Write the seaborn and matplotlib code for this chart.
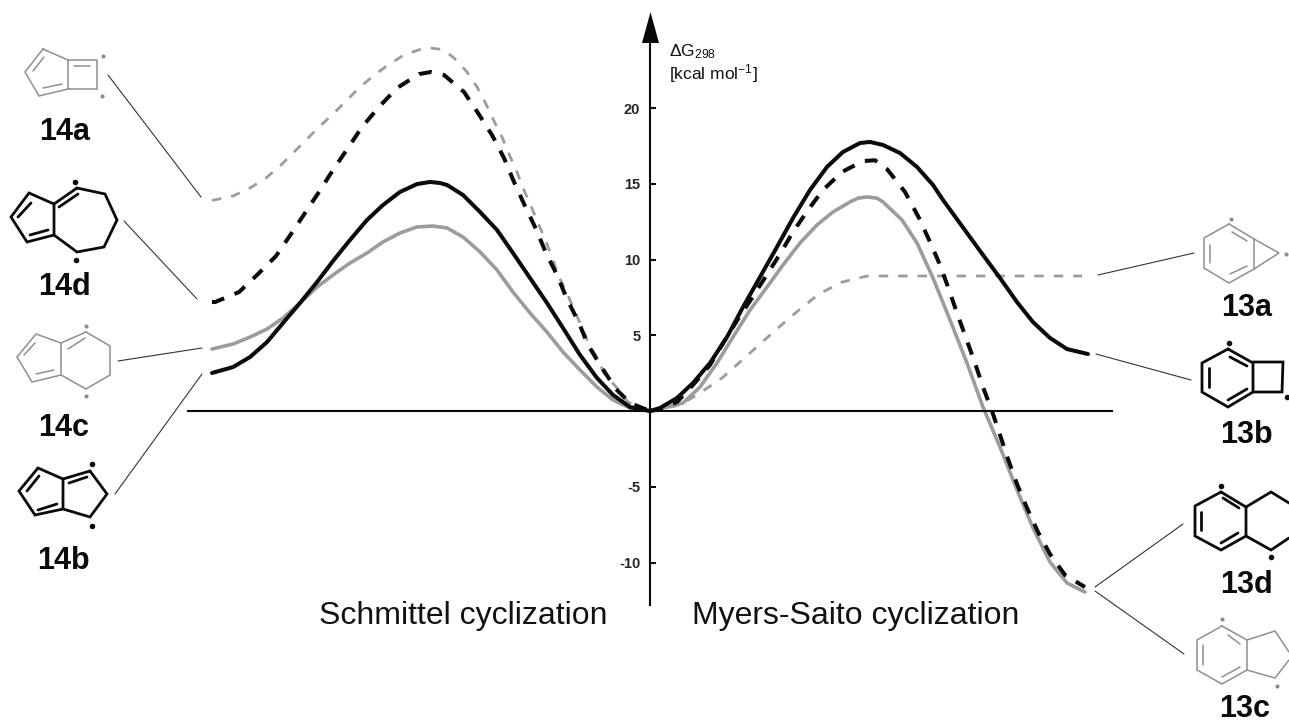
import pandas as pd
import matplotlib
matplotlib.use('Agg')
import matplotlib.pyplot as plt
import seaborn as sns

# reaction coordinate (arbitrary units, 0 = enediyne) and dG298 in kcal/mol
rc_14a = [-438, -417, -400, -384, -370, -357, -344, -331, -317, -304, -291, -277, -262, -246, -229, -220, -211, -202, -196, -183, -173, -164, -156, -148, -141, -133, -127, -119, -112, -105, -98, -92, -84, -77, -70, -62, -53, -46, -33, -22, -7, 0]
g_14a = [13.90, 14.19, 14.72, 15.38, 16.17, 17.03, 17.89, 18.75, 19.60, 20.46, 21.32, 22.11, 22.84, 23.50, 23.89, 23.96, 23.89, 23.62, 23.30, 22.38, 21.39, 20.26, 19.14, 18.09, 16.96, 15.78, 14.72, 13.53, 12.41, 11.35, 10.17, 8.98, 7.92, 6.86, 5.81, 4.55, 3.50, 2.51, 1.52, 0.59, 0.07, 0.0]

rc_14d = [-438, -435, -411, -392, -374, -359, -345, -331, -317, -302, -288, -271, -253, -231, -219, -206, -186, -172, -158, -146, -136, -125, -114, -104, -93, -83, -71, -62, -48, -34, -20, 0]
g_14d = [7.20, 7.19, 7.85, 9.04, 10.23, 11.68, 13.07, 14.46, 15.91, 17.36, 18.75, 20.07, 21.32, 22.24, 22.38, 22.18, 21.06, 19.67, 18.22, 16.70, 15.12, 13.53, 12.01, 10.43, 8.98, 7.39, 5.81, 4.36, 2.84, 1.45, 0.53, 0.0]

rc_14b = [-438, -417, -400, -383, -367, -350, -333, -317, -300, -283, -267, -250, -233, -220, -210, -203, -187, -170, -153, -137, -120, -103, -87, -70, -53, -37, -20, 0]
g_14b = [2.51, 2.90, 3.56, 4.55, 5.81, 7.13, 8.51, 9.90, 11.29, 12.61, 13.60, 14.46, 14.98, 15.12, 15.05, 14.92, 14.26, 13.14, 11.95, 10.43, 8.78, 7.13, 5.48, 3.70, 2.18, 1.06, 0.26, 0.0]

rc_14c = [-438, -417, -400, -383, -367, -350, -333, -317, -300, -283, -267, -250, -233, -217, -203, -187, -170, -153, -137, -120, -103, -87, -70, -53, -37, -20, 0]
g_14c = [4.09, 4.42, 4.88, 5.41, 6.14, 7.13, 8.18, 8.98, 9.77, 10.43, 11.16, 11.75, 12.15, 12.21, 12.08, 11.49, 10.50, 9.31, 7.85, 6.47, 5.21, 3.89, 2.71, 1.58, 0.73, 0.20, 0.0]

rc_13a = [0, 10, 30, 50, 72, 91, 110, 129, 149, 169, 192, 217, 243, 268, 293, 320, 343, 372, 400, 432]
g_13a = [0.0, 0.13, 0.40, 1.19, 2.18, 3.30, 4.42, 5.54, 6.67, 7.72, 8.51, 8.91, 8.91, 8.91, 8.91, 8.91, 8.91, 8.91, 8.91, 8.91]

rc_13b = [0, 10, 27, 43, 60, 77, 93, 110, 127, 143, 160, 177, 193, 210, 220, 233, 250, 267, 283, 293, 317, 333, 350, 367, 383, 400, 417, 438]
g_13b = [0.0, 0.20, 0.86, 1.85, 3.17, 4.88, 6.86, 8.84, 10.83, 12.74, 14.59, 16.11, 17.10, 17.69, 17.76, 17.56, 17.03, 16.11, 14.92, 13.93, 11.75, 10.30, 8.78, 7.19, 5.87, 4.82, 4.09, 3.76]

rc_13d = [0, 10, 27, 43, 60, 75, 88, 102, 116, 130, 143, 158, 173, 192, 213, 225, 237, 255, 269, 280, 290, 299, 307, 316, 325, 333, 342, 350, 358, 367, 377, 388, 400, 415, 435]
g_13d = [0.0, 0.13, 0.59, 1.72, 3.04, 4.69, 6.07, 7.46, 8.91, 10.36, 11.82, 13.27, 14.59, 15.78, 16.50, 16.55, 15.97, 14.46, 12.74, 11.16, 9.64, 8.00, 6.47, 4.82, 3.17, 1.58, 0.0, -1.58, -3.17, -4.82, -6.40, -7.99, -9.44, -10.83, -11.62]

rc_13c = [0, 10, 33, 50, 67, 83, 100, 117, 133, 150, 167, 183, 200, 208, 217, 227, 233, 252, 267, 283, 300, 317, 333, 350, 367, 383, 400, 417, 435]
g_13c = [0.0, 0.13, 0.53, 1.58, 3.17, 4.88, 6.67, 8.18, 9.64, 11.09, 12.28, 13.14, 13.80, 14.05, 14.13, 14.05, 13.80, 12.61, 11.09, 8.78, 6.01, 3.17, 0.26, -2.38, -5.21, -7.72, -9.97, -11.35, -11.95]

y_ticks = [20, 15, 10, 5, -5, -10]
y_tick_labels = ['20', '15', '10', '5', '-5', '-10']

GRAY = '#9c9c9c'
INK = '#0a0a0a'

# structure sketches: rings, inner double bonds, radical dots, leader line, label
structures = [
    dict(name='14a', color='#8f8f8f', lw=1.1, label=(65, 140),
         rings=[[(43, 49), (68, 60), (68, 89), (39, 96), (25, 72), (43, 49)], [(68, 60), (97, 60), (97, 89), (68, 89)]],
         bonds=[((33, 71), (44, 57)), ((43, 88), (62, 84)), ((74, 66), (90, 66))],
         dots=[(103, 56), (102, 96)], leader=((108, 75), (201, 197))),
    dict(name='14d', color=INK, lw=2.0, label=(64, 295),
         rings=[[(77, 188), (105, 194), (117, 220), (104, 247), (77, 252), (54, 235), (54, 204), (77, 188)], [(54, 204), (29, 193), (11, 217), (27, 242), (54, 235)]],
         bonds=[((59, 207), (78, 194)), ((18, 217), (31, 203)), ((30, 235), (48, 230))],
         dots=[(75, 182), (76, 260)], leader=((124, 221), (197, 299))),
    dict(name='14c', color='#8f8f8f', lw=1.1, label=(64, 436),
         rings=[[(86, 332), (110, 346), (110, 375), (86, 389), (61, 375), (61, 343), (86, 332)], [(61, 343), (36, 334), (17, 357), (32, 382), (61, 375)]],
         bonds=[((68, 349), (85, 338)), ((24, 355), (35, 343)), ((36, 374), (54, 370))],
         dots=[(86, 326), (86, 396)], leader=((118, 361), (202, 348))),
    dict(name='14b', color=INK, lw=2.0, label=(63, 569),
         rings=[[(90, 471), (107, 494), (90, 517), (63, 509), (63, 479), (90, 471)], [(63, 479), (38, 468), (19, 491), (35, 515), (63, 509)]],
         bonds=[((69, 483), (87, 477)), ((27, 491), (39, 476)), ((38, 510), (57, 504))],
         dots=[(92, 464), (92, 526)], leader=((115, 494), (202, 374))),
    dict(name='13a', color='#8f8f8f', lw=1.1, label=(1247, 316),
         rings=[[(1229, 224), (1254, 239), (1254, 269), (1229, 283), (1204, 268), (1204, 238), (1229, 224)], [(1254, 239), (1279, 253), (1254, 269)]],
         bonds=[((1232, 232), (1247, 241)), ((1230, 274), (1247, 266)), ((1210, 245), (1210, 263))],
         dots=[(1231, 219), (1286, 254)], leader=((1098, 275), (1194, 253))),
    dict(name='13b', color=INK, lw=2.0, label=(1246, 443),
         rings=[[(1228, 349), (1253, 363), (1253, 392), (1228, 407), (1202, 392), (1202, 363), (1228, 349)], [(1253, 362), (1283, 362), (1282, 392), (1253, 392)]],
         bonds=[((1230, 357), (1247, 366)), ((1228, 400), (1247, 389)), ((1209, 368), (1209, 387))],
         dots=[(1229, 343), (1287, 397)], leader=((1096, 354), (1191, 380))),
    dict(name='13d', color=INK, lw=2.0, label=(1246, 593),
         rings=[[(1221, 492), (1246, 507), (1246, 536), (1221, 550), (1195, 536), (1195, 506), (1221, 492)], [(1246, 507), (1271, 492), (1289, 503)], [(1246, 536), (1271, 550), (1289, 538)]],
         bonds=[((1223, 498), (1239, 508)), ((1221, 543), (1238, 533)), ((1201, 512), (1201, 530))],
         dots=[(1221, 486), (1271, 557)], leader=((1095, 587), (1183, 524))),
    dict(name='13c', color='#8f8f8f', lw=1.1, label=(1245, 717),
         rings=[[(1222, 626), (1247, 640), (1247, 670), (1222, 684), (1197, 670), (1197, 640), (1222, 626)], [(1247, 640), (1275, 631), (1289, 652)], [(1247, 670), (1275, 678), (1289, 660)]],
         bonds=[((1228, 635), (1240, 644)), ((1222, 677), (1240, 667)), ((1203, 645), (1203, 665))],
         dots=[(1222, 619), (1277, 686)], leader=((1095, 591), (1184, 654))),
]


def draw_curves(ax):
    solid = '-'
    dashed_gray = (0, (3.4, 3.6))
    dashed_black = (0, (3.2, 2.8))
    curves = [
        (rc_14a, g_14a, GRAY, 2.0, dashed_gray),
        (rc_13a, g_13a, GRAY, 2.0, dashed_gray),
        (rc_14c, g_14c, GRAY, 2.6, solid),
        (rc_13c, g_13c, GRAY, 2.6, solid),
        (rc_14d, g_14d, INK, 2.9, dashed_black),
        (rc_13d, g_13d, INK, 2.9, dashed_black),
        (rc_14b, g_14b, INK, 2.9, solid),
        (rc_13b, g_13b, INK, 2.9, solid),
    ]
    for xs, ys, color, lw, ls in curves:
        df = pd.DataFrame({'rc': xs, 'dG': ys})
        sns.lineplot(data=df, x='rc', y='dG', ax=ax, color=color, linewidth=lw, linestyle=ls,
                     estimator=None, sort=False, solid_joinstyle='round')


def draw_structure(pix, s):
    for ring in s['rings']:
        pix.plot(*zip(*ring), color=s['color'], lw=s['lw'], solid_joinstyle='miter')
    for a, b in s['bonds']:
        pix.plot(*zip(a, b), color=s['color'], lw=s['lw'])
    pix.scatter(*zip(*s['dots']), s=16 if s['color'] == INK else 9, color=s['color'], linewidths=0)
    pix.plot(*zip(*s['leader']), color='#333333', lw=0.8)
    pix.text(*s['label'], s['name'], ha='center', va='baseline', fontsize=22, fontweight='bold', color=INK)


def main():
    sns.set_style('white')
    plt.rcParams['font.family'] = ['Liberation Sans', 'DejaVu Sans']
    plt.rcParams['mathtext.fontset'] = 'custom'
    plt.rcParams['mathtext.rm'] = 'Liberation Sans'
    plt.rcParams['mathtext.default'] = 'regular'

    fig = plt.figure(figsize=(12.89, 7.24), dpi=100)
    ax = fig.add_axes([0, 0, 1, 1])
    ax.patch.set_alpha(0)
    ax.set_xlim(-650, 639)
    ax.set_ylim(-20.66, 27.13)

    draw_curves(ax)
    ax.set_xlabel('')
    ax.set_ylabel('')

    for side in ['top', 'right']:
        ax.spines[side].set_visible(False)
    ax.spines['left'].set_position(('data', 0))
    ax.spines['left'].set_bounds(-12.8, 24.4)
    ax.spines['bottom'].set_position(('data', 0))
    ax.spines['bottom'].set_bounds(-462, 462)
    ax.spines['left'].set_linewidth(1.5)
    ax.spines['bottom'].set_linewidth(1.5)
    ax.spines['left'].set_color(INK)
    ax.spines['bottom'].set_color(INK)
    ax.set_xticks([])
    ax.set_yticks(y_ticks)
    ax.set_yticklabels(y_tick_labels, fontsize=10.5, fontweight='bold')
    ax.tick_params(axis='y', direction='in', length=4.5, width=1.5, pad=7, left=True, color=INK)

    # second axes in picture pixels for the arrow head, labels and structures
    pix = fig.add_axes([0, 0, 1, 1], zorder=3)
    pix.set_xlim(0, 1289)
    pix.set_ylim(724, 0)
    pix.axis('off')
    pix.fill([650.5, 642, 659], [12, 43, 43], color=INK, lw=0)
    for s in structures:
        draw_structure(pix, s)

    pix.text(463, 624, 'Schmittel cyclization', ha='center', va='baseline', fontsize=23, color='#111111')
    pix.text(856, 624, 'Myers-Saito cyclization', ha='center', va='baseline', fontsize=23, color='#111111')
    pix.text(669, 56, r'$\Delta$G$_{298}$', ha='left', va='baseline', fontsize=12.5, color='#111111')
    pix.text(669, 79, r'[kcal mol$^{-1}$]', ha='left', va='baseline', fontsize=12.5, color='#111111')

    fig.savefig('out.png', dpi=100)


if __name__ == "__main__":
    main()
